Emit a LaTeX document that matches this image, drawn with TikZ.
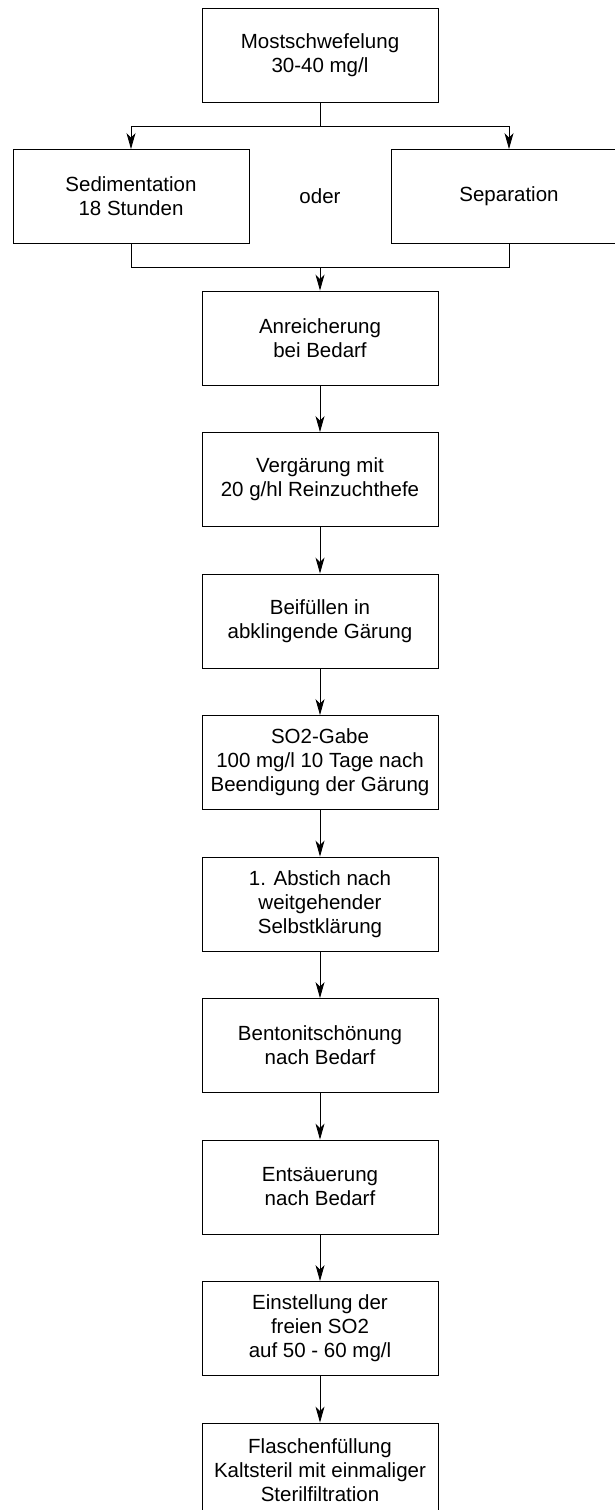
\documentclass[tikz,border=0pt]{standalone}
\usepackage{fontspec}
\setmainfont{Liberation Sans}
\usetikzlibrary{positioning,arrows.meta}

\begin{document}
\begin{tikzpicture}[
    x=1pt, y=-1pt,
    >={Stealth[length=16pt,width=9pt,inset=4.5pt]},
    stepbox/.style={
        draw,
        line width=0.9pt,
        align=center,
        font=\fontsize{20.5}{24}\selectfont,
        minimum width=236pt,
        minimum height=94pt,
        inner sep=0pt
    },
    plain/.style={
        align=center,
        font=\fontsize{20.5}{24}\selectfont
    },
    arrow/.style={->, line width=0.9pt},
    link/.style={line width=0.9pt}
]

\useasboundingbox (0,0) rectangle (615,1510);
\clip (0,0) rectangle (615,1510);

% TOP
\node[stepbox] (most) at (320,55)
{Mostschwefelung\\30-40 mg/l};

% BRANCHES
\node[stepbox] (sed) at (131,196.5)
{Sedimentation\\18 Stunden};
\node[plain] (oder) at (320,196.5) {oder};
\node[stepbox] (sep) at (509,196.5) {Separation};

\coordinate (split) at (320,126);
\coordinate (join)  at (320,267);

\draw[link] (most) -- (split);
\draw[arrow] (split) -| (sed.north);
\draw[arrow] (split) -| (sep.north);
\draw[link] (sed.south) |- (join);
\draw[link] (sep.south) |- (join);

% MAIN COLUMN
\node[stepbox] (anr) at (320,338)
{Anreicherung\\bei Bedarf};

\node[stepbox] (verg) at (320,479.5)
{Vergärung mit\\20 g/hl Reinzuchthefe};

\node[stepbox] (beif) at (320,621)
{Beifüllen in\\abklingende Gärung};

\node[stepbox] (sogabe) at (320,762.5)
{SO2-Gabe\\100 mg/l 10 Tage nach\\Beendigung der Gärung};

\node[stepbox] (abstich) at (320,904)
{1. Abstich nach\\weitgehender\\Selbstklärung};

\node[stepbox] (bento) at (320,1045.5)
{Bentonitschönung\\nach Bedarf};

\node[stepbox] (ents) at (320,1187)
{Entsäuerung\\nach Bedarf};

\node[stepbox] (einst) at (320,1328.5)
{Einstellung der\\freien SO2\\auf 50 - 60 mg/l};

\node[stepbox] (flasche) at (320,1470)
{Flaschenfüllung\\Kaltsteril mit einmaliger\\Sterilfiltration};

\draw[arrow] (join) -- (anr);
\draw[arrow] (anr) -- (verg);
\draw[arrow] (verg) -- (beif);
\draw[arrow] (beif) -- (sogabe);
\draw[arrow] (sogabe) -- (abstich);
\draw[arrow] (abstich) -- (bento);
\draw[arrow] (bento) -- (ents);
\draw[arrow] (ents) -- (einst);
\draw[arrow] (einst) -- (flasche);

\end{tikzpicture}
\end{document}
